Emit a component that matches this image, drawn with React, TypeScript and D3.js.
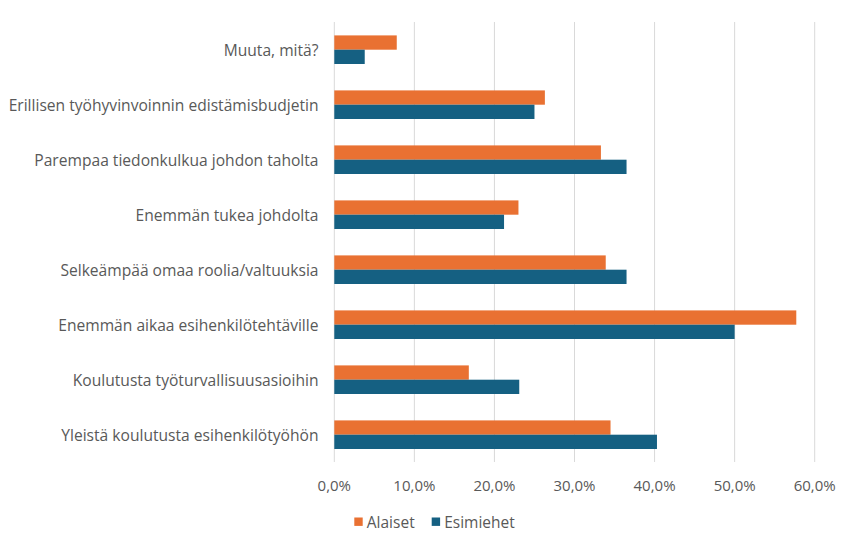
import * as d3 from "d3";
import { useEffect, useRef } from "react";

const categories = [
  "Muuta, mitä?",
  "Erillisen työhyvinvoinnin edistämisbudjetin",
  "Parempaa tiedonkulkua johdon taholta",
  "Enemmän tukea johdolta",
  "Selkeämpää omaa roolia/valtuuksia",
  "Enemmän aikaa esihenkilötehtäville",
  "Koulutusta työturvallisuusasioihin",
  "Yleistä koulutusta esihenkilötyöhön",
];
const alaiset = [7.8, 26.3, 33.3, 23.0, 33.9, 57.7, 16.8, 34.5];
const esimiehet = [3.8, 25.0, 36.5, 21.2, 36.5, 50.0, 23.1, 40.3];
const seriesNames = ["Alaiset", "Esimiehet"];
const colors = ["#E97132", "#156082"];
const xTicks = [0, 10, 20, 30, 40, 50, 60];

export default function App() {
  const ref = useRef<SVGSVGElement>(null);

  useEffect(() => {
    const width = 868;
    const height = 542;
    const font = "'Open Sans', 'Liberation Sans', sans-serif";
    const textColor = "#595959";

    const svg = d3.select(ref.current);
    svg.selectAll("*").remove();
    svg.attr("width", width).attr("height", height);

    svg.append("rect").attr("width", width).attr("height", height).attr("fill", "#fff");

    const x = d3.scaleLinear().domain([0, 60]).range([334.3, 814.7]);
    const y = d3.scaleBand().domain(categories).range([22.2, 462.2]).paddingInner(0.48).paddingOuter(0.24);
    const inner = d3.scaleBand().domain(seriesNames).range([0, y.bandwidth()]);

    // gridlines
    svg.append("g")
      .selectAll("line")
      .data(xTicks)
      .join("line")
      .attr("x1", d => x(d))
      .attr("x2", d => x(d))
      .attr("y1", 22)
      .attr("y2", 462)
      .attr("stroke", "#d9d9d9")
      .attr("stroke-width", 1);

    const data = [alaiset, esimiehet];
    data.forEach((vals, si) => {
      svg.append("g")
        .selectAll("rect")
        .data(vals)
        .join("rect")
        .attr("x", x(0))
        .attr("y", (_, i) => y(categories[i])! + inner(seriesNames[si])!)
        .attr("width", d => x(d) - x(0))
        .attr("height", inner.bandwidth())
        .attr("fill", colors[si]);
    });

    // category labels
    svg.append("g")
      .selectAll("text")
      .data(categories)
      .join("text")
      .attr("x", 318.5)
      .attr("y", d => y(d)! + y.bandwidth() / 2)
      .attr("text-anchor", "end")
      .attr("dominant-baseline", "central")
      .attr("font-family", font)
      .attr("font-size", 15.6)
      .attr("fill", textColor)
      .text(d => d);

    // x tick labels
    svg.append("g")
      .selectAll("text")
      .data(xTicks)
      .join("text")
      .attr("x", d => x(d))
      .attr("y", 485)
      .attr("text-anchor", "middle")
      .attr("dominant-baseline", "central")
      .attr("font-family", font)
      .attr("font-size", 15)
      .attr("fill", textColor)
      .text(d => d3.format(".1f")(d).replace(".", ",") + "%");

    // legend
    const legendX = [354.3, 431.7];
    const lg = svg.append("g");
    seriesNames.forEach((name, i) => {
      lg.append("rect")
        .attr("x", legendX[i])
        .attr("y", 517.5)
        .attr("width", 8.4)
        .attr("height", 8.4)
        .attr("fill", colors[i]);
      lg.append("text")
        .attr("x", legendX[i] + 12.5)
        .attr("y", 521.7)
        .attr("dominant-baseline", "central")
        .attr("font-family", font)
        .attr("font-size", 15.5)
        .attr("fill", textColor)
        .text(name);
    });
  }, []);

  return <svg ref={ref} style={{ position: "absolute", left: 0, top: 0 }} />;
}
